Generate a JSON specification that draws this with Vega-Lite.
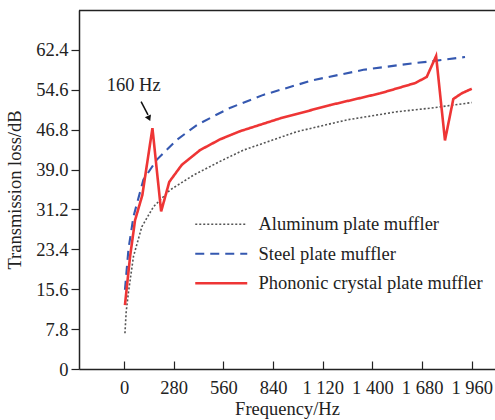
{
  "$schema": "https://vega.github.io/schema/vega-lite/v6.json",
  "width": 416,
  "height": 359,
  "autosize": {"type": "none"},
  "padding": {"left": 79, "top": 10, "right": 0, "bottom": 51},
  "config": {
    "font": "Liberation Serif",
    "view": {"stroke": null},
    "axis": {"labelFont": "Liberation Serif", "titleFont": "Liberation Serif", "labelColor": "#222", "titleColor": "#222", "domainColor": "#222", "tickColor": "#222", "titleFontWeight": "normal", "grid": false, "domainWidth": 1.5, "tickWidth": 1.2}
  },
  "datasets": {
    "curves": [
      {"series": "Aluminum plate muffler", "f": 5, "tl": 7.0},
      {"series": "Aluminum plate muffler", "f": 12, "tl": 11.2},
      {"series": "Aluminum plate muffler", "f": 24, "tl": 14.8},
      {"series": "Aluminum plate muffler", "f": 53, "tl": 22.0},
      {"series": "Aluminum plate muffler", "f": 100, "tl": 27.8},
      {"series": "Aluminum plate muffler", "f": 165, "tl": 31.7},
      {"series": "Aluminum plate muffler", "f": 259, "tl": 35.0},
      {"series": "Aluminum plate muffler", "f": 391, "tl": 37.9},
      {"series": "Aluminum plate muffler", "f": 541, "tl": 40.6},
      {"series": "Aluminum plate muffler", "f": 673, "tl": 42.8},
      {"series": "Aluminum plate muffler", "f": 973, "tl": 46.4},
      {"series": "Aluminum plate muffler", "f": 1255, "tl": 48.7},
      {"series": "Aluminum plate muffler", "f": 1537, "tl": 50.3},
      {"series": "Aluminum plate muffler", "f": 1725, "tl": 51.0},
      {"series": "Aluminum plate muffler", "f": 1960, "tl": 52.1},
      {"series": "Steel plate muffler", "f": 5, "tl": 15.5},
      {"series": "Steel plate muffler", "f": 25, "tl": 23.5},
      {"series": "Steel plate muffler", "f": 53, "tl": 29.8},
      {"series": "Steel plate muffler", "f": 109, "tl": 37.0},
      {"series": "Steel plate muffler", "f": 184, "tl": 40.9},
      {"series": "Steel plate muffler", "f": 297, "tl": 44.8},
      {"series": "Steel plate muffler", "f": 410, "tl": 47.7},
      {"series": "Steel plate muffler", "f": 503, "tl": 49.4},
      {"series": "Steel plate muffler", "f": 600, "tl": 51.1},
      {"series": "Steel plate muffler", "f": 785, "tl": 53.6},
      {"series": "Steel plate muffler", "f": 1067, "tl": 56.5},
      {"series": "Steel plate muffler", "f": 1349, "tl": 58.5},
      {"series": "Steel plate muffler", "f": 1631, "tl": 59.8},
      {"series": "Steel plate muffler", "f": 1715, "tl": 60.1},
      {"series": "Steel plate muffler", "f": 1922, "tl": 61.0},
      {"series": "Phononic crystal plate muffler", "f": 5, "tl": 12.5},
      {"series": "Phononic crystal plate muffler", "f": 34, "tl": 22.0},
      {"series": "Phononic crystal plate muffler", "f": 62, "tl": 29.1},
      {"series": "Phononic crystal plate muffler", "f": 103, "tl": 34.0},
      {"series": "Phononic crystal plate muffler", "f": 160, "tl": 47.1},
      {"series": "Phononic crystal plate muffler", "f": 209, "tl": 30.8},
      {"series": "Phononic crystal plate muffler", "f": 255, "tl": 36.6},
      {"series": "Phononic crystal plate muffler", "f": 325, "tl": 39.9},
      {"series": "Phononic crystal plate muffler", "f": 428, "tl": 42.8},
      {"series": "Phononic crystal plate muffler", "f": 541, "tl": 44.9},
      {"series": "Phononic crystal plate muffler", "f": 654, "tl": 46.5},
      {"series": "Phononic crystal plate muffler", "f": 879, "tl": 49.0},
      {"series": "Phononic crystal plate muffler", "f": 1161, "tl": 51.6},
      {"series": "Phononic crystal plate muffler", "f": 1443, "tl": 53.9},
      {"series": "Phononic crystal plate muffler", "f": 1640, "tl": 55.9},
      {"series": "Phononic crystal plate muffler", "f": 1706, "tl": 57.1},
      {"series": "Phononic crystal plate muffler", "f": 1759, "tl": 61.2},
      {"series": "Phononic crystal plate muffler", "f": 1809, "tl": 44.7},
      {"series": "Phononic crystal plate muffler", "f": 1856, "tl": 52.8},
      {"series": "Phononic crystal plate muffler", "f": 1903, "tl": 53.9},
      {"series": "Phononic crystal plate muffler", "f": 1960, "tl": 54.8}
    ]
  },
  "layer": [
    {
      "data": {"name": "curves"},
      "mark": {"type": "line", "interpolate": "linear"},
      "encoding": {
        "x": {
          "field": "f", "type": "quantitative",
          "scale": {"domain": [-254, 2091], "nice": false, "zero": false},
          "axis": {
            "title": "Frequency/Hz", "titleFontSize": 18.5, "titlePadding": 3,
            "values": [0, 280, 560, 840, 1120, 1400, 1680, 1960],
            "labelExpr": "replace(format(datum.value, ','), ',', ' ')",
            "labelFontSize": 18.5, "tickSize": -8, "labelPadding": 17,
            "labelFlush": false
          }
        },
        "y": {
          "field": "tl", "type": "quantitative",
          "scale": {"domain": [0, 70.2], "nice": false},
          "axis": {
            "title": "Transmission loss/dB", "titleFontSize": 18.5, "titlePadding": 11,
            "values": [0, 7.8, 15.6, 23.4, 31.2, 39.0, 46.8, 54.6, 62.4],
            "labelExpr": "datum.value == 0 ? '0' : format(datum.value, '.1f')",
            "labelFontSize": 18.5, "tickSize": 8, "labelPadding": 3
          }
        },
        "color": {
          "field": "series", "type": "nominal",
          "scale": {"domain": ["Aluminum plate muffler", "Steel plate muffler", "Phononic crystal plate muffler"], "range": ["#555555", "#3558b0", "#ee3535"]},
          "legend": {
            "title": null, "orient": "none", "legendX": 133, "legendY": 205,
            "symbolType": "M-5.2,0H5.2", "symbolSize": 100, "symbolStrokeWidth": 2,
            "labelOffset": 28, "labelFontSize": 18.5, "labelFont": "Liberation Serif",
            "labelColor": "#222", "rowPadding": 10.5, "labelLimit": 400
          }
        },
        "strokeDash": {
          "field": "series", "type": "nominal",
          "scale": {"domain": ["Aluminum plate muffler", "Steel plate muffler", "Phononic crystal plate muffler"], "range": [[2, 2], [9, 6], [1, 0]]},
          "legend": null
        },
        "strokeWidth": {
          "field": "series", "type": "nominal",
          "scale": {"domain": ["Aluminum plate muffler", "Steel plate muffler", "Phononic crystal plate muffler"], "range": [1.6, 2.6, 1.8]},
          "legend": null
        }
      }
    },
    {
      "data": {"values": [{}]},
      "mark": {"type": "rule", "color": "#222", "strokeWidth": 1.6},
      "encoding": {"x": {"datum": -254}, "x2": {"datum": 2091}, "y": {"datum": 70.1}}
    },
    {
      "data": {"values": [{}]},
      "mark": {"type": "text", "fontSize": 18.5, "font": "Liberation Serif", "color": "#222"},
      "encoding": {"x": {"datum": 54}, "y": {"datum": 55.6}, "text": {"value": "160 Hz"}}
    },
    {
      "data": {"values": [{}]},
      "mark": {"type": "rule", "color": "#111", "strokeWidth": 1.5},
      "encoding": {"x": {"datum": 96}, "y": {"datum": 52.3}, "x2": {"datum": 135}, "y2": {"datum": 49.7}}
    },
    {
      "data": {"values": [{}]},
      "mark": {"type": "point", "shape": "triangle-down", "filled": true, "color": "#111", "size": 45, "angle": 336, "opacity": 1},
      "encoding": {"x": {"datum": 141}, "y": {"datum": 49.0}}
    }
  ]
}
